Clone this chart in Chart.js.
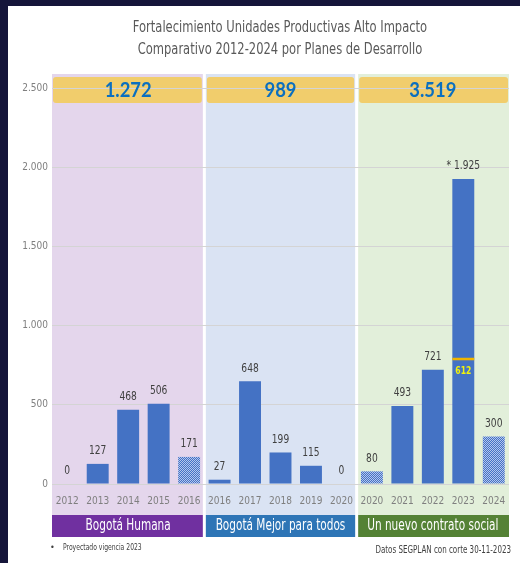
<!DOCTYPE html>
<html>
<head>
<meta charset="utf-8">
<script src="https://cdn.jsdelivr.net/npm/chart.js@4.4.0/dist/chart.umd.min.js"></script>
<style>
  html, body { margin: 0; padding: 0; background: #15153a; }
  canvas { display: block; }
</style>
</head>
<body>
<canvas id="chart" width="520" height="563"></canvas>
<script>
// data
const years = ['2012', '2013', '2014', '2015', '2016',
               '2016', '2017', '2018', '2019', '2020',
               '2020', '2021', '2022', '2023', '2024'];
const values = [0, 127, 468, 506, 171,
                27, 648, 199, 115, 0,
                80, 493, 721, 1925, 300];
const valueLabels = ['0', '127', '468', '506', '171',
                     '27', '648', '199', '115', '0',
                     '80', '493', '721', '* 1.925', '300'];
// partial years drawn with the dotted fill
const partial = [false, false, false, false, true,
                 false, false, false, false, false,
                 true, false, false, false, true];
// cut-off marker inside the 2023 bar
const cutoffLevel = [null, null, null, null, null,
                     null, null, null, null, null,
                     null, null, null, [781, 797], null];
const cutoffLabel = '612';

const plans = ['Bogotá Humana', 'Bogotá Mejor para todos', 'Un nuevo contrato social'];
const planTotals = ['1.272', '989', '3.519'];
const planColors = ['#7030a0', '#2e75b6', '#548235'];
const panelColors = ['#e4d6ec', '#dae3f3', '#e2efda'];
const yTicks = [0, 500, 1000, 1500, 2000, 2500];

const NARROW = "'Liberation Sans Narrow', 'DejaVu Sans Condensed', sans-serif";

const ctx = document.getElementById('chart').getContext('2d');

// dotted fill for projected years
function dotted() {
  const c = document.createElement('canvas');
  c.width = 2; c.height = 2;
  const g = c.getContext('2d');
  g.fillStyle = '#4472c4'; g.fillRect(0, 0, 2, 2);
  g.fillStyle = '#b4c6ee'; g.fillRect(0, 0, 1, 1);
  g.fillStyle = '#b4c6ee'; g.fillRect(1, 1, 1, 1);
  return ctx.createPattern(c, 'repeat');
}
const dots = dotted();

// text squeezed horizontally, to look like the narrow original font
function narrowText(g, text, x, y, sx) {
  g.save();
  g.translate(x, y);
  g.scale(sx, 1);
  g.fillText(text, 0, 0);
  g.restore();
}

const panels = {
  id: 'panels',
  beforeDraw(chart) {
    const g = chart.ctx, a = chart.chartArea;
    const catW = (a.right - a.left) / years.length;
    g.save();
    g.fillStyle = '#15153a';
    g.fillRect(0, 0, chart.width, chart.height);
    g.fillStyle = '#ffffff';
    g.fillRect(8, 6, chart.width - 8, chart.height - 6);
    for (let i = 0; i < 3; i++) {
      const l = a.left + i * 5 * catW + (i > 0 ? 1.5 : 0);
      const r = a.left + (i + 1) * 5 * catW - (i < 2 ? 1.5 : 0);
      g.fillStyle = panelColors[i];
      g.fillRect(l, 74, r - l, 441);
      g.fillStyle = '#f1cd6c';
      g.beginPath();
      g.roundRect(l + 1, 77, r - l - 2, 26, 3);
      g.fill();
      g.fillStyle = planColors[i];
      g.fillRect(l, 515, r - l, 22);
    }
    g.restore();
  },
  afterDraw(chart) {
    const g = chart.ctx, a = chart.chartArea;
    const catW = (a.right - a.left) / years.length;
    g.save();
    g.textAlign = 'center';
    g.textBaseline = 'middle';
    for (let i = 0; i < 3; i++) {
      const cx = a.left + (i * 5 + 2.5) * catW;
      g.fillStyle = '#0b6fbf';
      g.font = "bold 20px Lato, sans-serif";
      narrowText(g, planTotals[i], cx, 91, 0.92);
      g.fillStyle = '#ffffff';
      g.font = '15px ' + NARROW;
      narrowText(g, plans[i], cx, 526, 0.78);
    }
    // value labels
    const meta = chart.getDatasetMeta(0);
    g.fillStyle = '#404040';
    g.font = '13px ' + NARROW;
    meta.data.forEach((bar, i) => {
      narrowText(g, valueLabels[i], bar.x, bar.y - 13, 0.78);
    });
    // cut-off label
    const m = chart.getDatasetMeta(1);
    m.data.forEach((bar, i) => {
      if (cutoffLevel[i]) {
        g.fillStyle = '#f2f20a';
        g.font = 'bold 10px ' + NARROW;
        narrowText(g, cutoffLabel, bar.x, bar.base + 11, 0.85);
      }
    });
    // title and notes
    g.fillStyle = '#595959';
    g.font = '16px ' + NARROW;
    narrowText(g, 'Fortalecimiento Unidades Productivas Alto Impacto', 280, 28, 0.8);
    narrowText(g, 'Comparativo 2012-2024 por Planes de Desarrollo', 280, 50, 0.8);
    g.fillStyle = '#404040';
    g.textAlign = 'left';
    g.font = '9px ' + NARROW;
    g.fillText('•', 50, 548);
    narrowText(g, 'Proyectado vigencia 2023', 63, 548, 0.75);
    g.textAlign = 'right';
    g.font = '11px ' + NARROW;
    narrowText(g, 'Datos SEGPLAN con corte 30-11-2023', 511, 550, 0.72);
    g.restore();
  }
};

new Chart(ctx, {
  type: 'bar',
  data: {
    labels: years,
    datasets: [{
      data: values,
      backgroundColor: partial.map(p => p ? dots : '#4472c4'),
      barPercentage: 0.8,
      categoryPercentage: 0.9,
      order: 2
    }, {
      data: cutoffLevel,
      backgroundColor: '#f0b400',
      barPercentage: 0.8,
      categoryPercentage: 0.9,
      grouped: false,
      order: 1
    }]
  },
  options: {
    responsive: false,
    animation: false,
    layout: { padding: { top: 88, right: 11, left: 0, bottom: 0 } },
    plugins: {
      legend: { display: false },
      tooltip: { enabled: false }
    },
    scales: {
      x: {
        grid: { display: false, drawTicks: false },
        border: { display: false },
        ticks: { color: '#7f7f7f', font: { family: NARROW, size: 10 }, padding: 11, maxRotation: 0, autoSkip: false },
        afterFit(s) { s.height = 79; }
      },
      y: {
        min: 0,
        max: 2500,
        afterBuildTicks(s) { s.ticks = yTicks.map(v => ({ value: v })); },
        grid: { color: '#d4d4d4', drawTicks: false },
        border: { display: false },
        ticks: {
          color: '#7f7f7f',
          font: { family: NARROW, size: 10 },
          padding: 4,
          callback: v => v.toLocaleString('de-DE')
        },
        afterFit(s) { s.width = 52; }
      }
    }
  },
  plugins: [panels]
});
</script>
</body>
</html>
